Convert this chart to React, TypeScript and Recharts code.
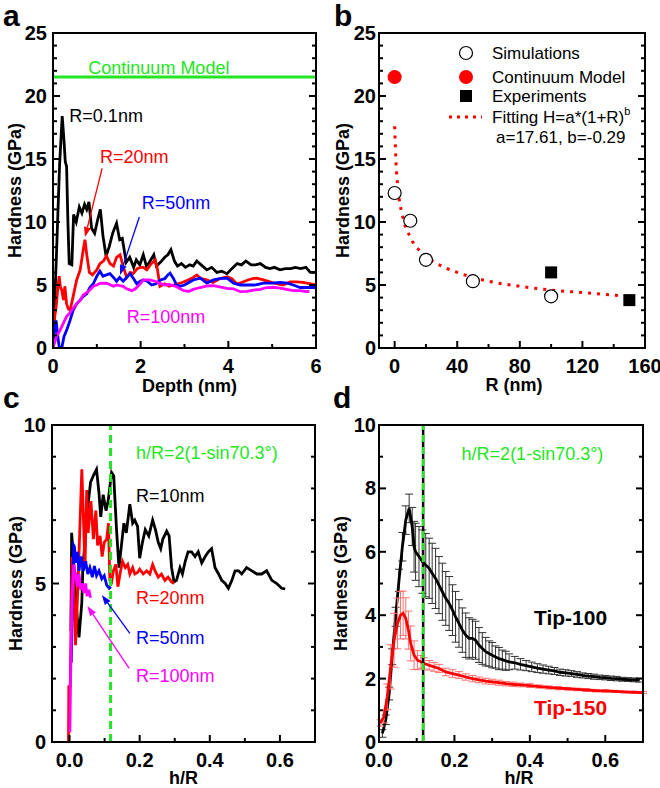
import React from 'react';
import {
  LineChart,
  ComposedChart,
  Line,
  Scatter,
  XAxis,
  YAxis,
  ReferenceLine,
  ReferenceDot,
  ErrorBar,
  Legend,
  Label,
} from 'recharts';

const FONT = '"Liberation Sans", Arial, Helvetica, sans-serif';
const GREEN = '#22e622';
const RED = '#ff0000';
const BLUE = '#0000ff';
const MAGENTA = '#ff00ff';
const BLACK = '#000000';

type Pair = [number, number];
type Triple = [number, number, number];

// ---------------- Panel a: hardness vs depth ----------------
const A_X_TICKS = [0, 1, 2, 3, 4, 5, 6];
const A_X_LABELS = [0, 2, 4, 6];
const A_Y_TICKS = Array.from({ length: 26 }, (_, i) => i);
const A_Y_LABELS = [0, 5, 10, 15, 20, 25];
const A_CONTINUUM = 21.5;

const aR01: Pair[] = [
  [0, 0], [0.05, 4.6], [0.1, 9.5], [0.15, 14.5], [0.21, 18.4], [0.25, 16.5], [0.28, 14.8], [0.31, 14.4],
  [0.34, 10], [0.37, 6.7], [0.43, 6.6], [0.47, 10.6], [0.53, 10.0], [0.6, 11.2], [0.66, 10.7], [0.72, 11.4],
  [0.77, 11.0], [0.82, 11.6], [0.88, 9.5], [0.95, 9.1], [1.02, 10.2], [1.08, 11.0], [1.14, 8.9], [1.21, 7.3],
  [1.28, 8.0], [1.36, 9.1], [1.45, 9.9], [1.52, 8.6], [1.58, 8.7], [1.67, 6.8], [1.75, 7.2], [1.84, 6.4],
  [1.9, 7.0], [1.98, 6.6], [2.06, 7.4], [2.13, 6.5], [2.2, 6.8], [2.3, 7.4], [2.36, 6.5], [2.45, 6.8],
  [2.55, 7.2], [2.62, 7.4], [2.69, 7.8], [2.77, 6.9], [2.84, 6.5], [2.93, 6.7], [3.02, 6.4], [3.12, 6.6],
  [3.2, 6.5], [3.28, 6.9], [3.38, 6.6], [3.51, 6.2], [3.62, 6.4], [3.74, 6.0], [3.85, 6.1], [3.97, 5.9],
  [4.08, 6.3], [4.2, 6.7], [4.3, 6.6], [4.4, 6.9], [4.52, 6.6], [4.62, 6.6], [4.73, 6.7], [4.85, 6.4],
  [4.95, 6.3], [5.05, 6.4], [5.18, 6.2], [5.3, 6.3], [5.42, 6.3], [5.53, 6.4], [5.65, 6.3], [5.77, 6.4],
  [5.87, 6.0], [6.0, 6.0],
];
const aR20: Pair[] = [
  [0, 0.3], [0.04, 2.5], [0.08, 3.5], [0.11, 4.8], [0.14, 5.7], [0.17, 4.8], [0.2, 4.6], [0.24, 3.8],
  [0.27, 4.9], [0.31, 3.5], [0.35, 3.1], [0.39, 3.0], [0.46, 4.1], [0.54, 5.4], [0.62, 6.2], [0.69, 7.8],
  [0.73, 8.6], [0.77, 7.4], [0.83, 6.0], [0.9, 5.8], [1.0, 6.2], [1.07, 6.7], [1.15, 6.9], [1.22, 7.3],
  [1.3, 6.7], [1.38, 6.5], [1.45, 7.2], [1.53, 7.4], [1.6, 6.5], [1.68, 5.6], [1.76, 6.0], [1.83, 5.9],
  [1.92, 6.3], [2.0, 6.4], [2.06, 6.4], [2.14, 6.2], [2.22, 6.6], [2.33, 7.0], [2.38, 6.3], [2.44, 4.9],
  [2.55, 5.1], [2.65, 4.9], [2.75, 5.0], [2.85, 5.1], [2.95, 5.2], [3.08, 5.4], [3.2, 5.6], [3.28, 5.8],
  [3.38, 5.5], [3.51, 5.4], [3.65, 5.2], [3.8, 5.5], [3.97, 5.65], [4.08, 5.5], [4.19, 5.1], [4.3, 5.2],
  [4.45, 5.4], [4.55, 5.5], [4.65, 5.55], [4.8, 5.4], [4.95, 5.25], [5.1, 5.1], [5.25, 5.0], [5.41, 5.25],
  [5.55, 5.25], [5.7, 5.2], [5.85, 5.1], [6.0, 5.0],
];
const aR50: Pair[] = [
  [0, 0], [0.04, 1.5], [0.07, 2.2], [0.1, 1.2], [0.14, 0.1], [0.2, 0], [0.25, 0.9], [0.31, 1.4],
  [0.39, 2.2], [0.46, 3.0], [0.54, 3.5], [0.62, 3.8], [0.69, 4.1], [0.77, 4.3], [0.84, 4.8], [0.92, 5.1],
  [1.0, 5.7], [1.07, 6.1], [1.14, 5.7], [1.22, 5.8], [1.3, 5.9], [1.38, 5.6], [1.45, 5.3], [1.52, 5.6],
  [1.6, 5.3], [1.68, 5.6], [1.76, 5.9], [1.84, 5.5], [1.91, 5.1], [1.99, 5.3], [2.06, 5.4], [2.15, 5.3],
  [2.25, 5.0], [2.35, 5.1], [2.45, 5.4], [2.55, 5.5], [2.62, 5.8], [2.67, 5.95], [2.75, 5.5], [2.82, 5.0],
  [2.9, 4.9], [3.0, 5.0], [3.1, 5.2], [3.2, 5.4], [3.36, 5.55], [3.51, 5.15], [3.66, 5.4], [3.8, 5.5],
  [3.97, 5.55], [4.12, 5.15], [4.27, 5.0], [4.42, 5.0], [4.6, 5.0], [4.8, 5.15], [5.0, 5.15], [5.18, 5.2],
  [5.35, 5.15], [5.48, 5.0], [5.64, 4.8], [5.8, 4.8], [6.0, 4.8],
];
const aR100: Pair[] = [
  [0, 0], [0.08, 0.9], [0.16, 1.4], [0.24, 2.0], [0.31, 2.5], [0.39, 2.8], [0.46, 3.15], [0.54, 3.5],
  [0.62, 3.8], [0.69, 4.2], [0.77, 4.4], [0.84, 4.6], [0.92, 4.9], [1.0, 5.0], [1.07, 5.13], [1.22, 5.15],
  [1.38, 4.9], [1.45, 5.0], [1.6, 4.9], [1.68, 4.7], [1.8, 4.55], [1.88, 4.7], [1.99, 5.1], [2.06, 5.4],
  [2.2, 5.4], [2.33, 5.3], [2.44, 5.13], [2.55, 5.0], [2.65, 5.05], [2.82, 4.86], [2.98, 4.55], [3.1, 4.5],
  [3.2, 4.65], [3.36, 4.8], [3.51, 4.92], [3.66, 4.95], [3.8, 4.85], [3.97, 4.74], [4.12, 4.7], [4.27, 4.47],
  [4.42, 4.5], [4.58, 4.6], [4.73, 4.65], [4.88, 4.8], [5.03, 4.82], [5.18, 4.75], [5.33, 4.65], [5.48, 4.55],
  [5.63, 4.55], [5.79, 4.47], [5.85, 4.5],
];

// ---------------- Panel b: hardness vs tip radius ----------------
const B_X_TICKS = [0, 20, 40, 60, 80, 100, 120, 140, 160];
const B_X_LABELS = [0, 40, 80, 120, 160];
const bSimulations: Pair[] = [[0, 12.3], [10, 10.1], [20, 7.0], [50, 5.3], [100, 4.1]];
const bContinuum: Pair[] = [[0, 21.5]];
const bExperiments: Pair[] = [[100, 6.0], [150, 3.8]];
const bFitting: Pair[] = [
  [0, 17.6], [1, 14.4], [2, 12.8], [5, 10.5], [10, 8.8], [20, 7.3], [30, 6.5], [40, 6.0],
  [60, 5.3], [80, 4.9], [100, 4.6], [120, 4.4], [150, 4.1],
];

// ---------------- Panel c: hardness vs h/R ----------------
const C_X_TICKS = [0, 0.1, 0.2, 0.3, 0.4, 0.5, 0.6, 0.7];
const C_X_LABELS = [0, 0.2, 0.4, 0.6];
const C_Y_TICKS = [0, 1, 2, 3, 4, 5, 6, 7, 8, 9, 10];
const C_Y_LABELS = [0, 5, 10];
const H_R_CRIT = 0.117;

const cR10: Pair[] = [
  [0.004, 3.5], [0.006, 6.6], [0.013, 5.5], [0.019, 4.3], [0.027, 3.3], [0.035, 4.4], [0.038, 5.5], [0.046, 6.6],
  [0.054, 7.6], [0.06, 8.2], [0.068, 8.4], [0.077, 8.6], [0.084, 7.85], [0.089, 7.1], [0.096, 7.8], [0.104, 7.3],
  [0.11, 7.6], [0.12, 8.5], [0.126, 8.4], [0.134, 6.7], [0.141, 5.5], [0.148, 6.2], [0.155, 6.9], [0.162, 6.6],
  [0.172, 7.5], [0.18, 6.9], [0.186, 7.0], [0.194, 6.8], [0.2, 5.8], [0.208, 6.3], [0.216, 6.7], [0.226, 6.5],
  [0.237, 7.0], [0.245, 6.7], [0.253, 6.3], [0.26, 6.1], [0.266, 6.4], [0.277, 6.65], [0.284, 6.5], [0.291, 5.5],
  [0.298, 5.05], [0.305, 5.1], [0.315, 5.5], [0.322, 5.3], [0.33, 5.7], [0.338, 6.0], [0.348, 6.0], [0.358, 5.85],
  [0.367, 6.0], [0.377, 5.65], [0.387, 5.85], [0.396, 6.0], [0.405, 6.1], [0.415, 5.5], [0.425, 5.3], [0.434, 5.1],
  [0.444, 5.0], [0.453, 4.85], [0.463, 5.1], [0.472, 5.4], [0.482, 5.4], [0.491, 5.3], [0.505, 5.5], [0.52, 5.4],
  [0.534, 5.3], [0.548, 5.3], [0.562, 5.4], [0.577, 5.1], [0.591, 5.0], [0.605, 4.85], [0.615, 4.83],
];
const cR20: Pair[] = [
  [-0.003, 0], [-0.002, 1.75], [0.002, 1.75], [0.007, 5.84], [0.012, 4.9], [0.017, 3.05], [0.024, 4.9], [0.029, 6.6],
  [0.035, 8.6], [0.039, 7.3], [0.044, 5.5], [0.049, 7.95], [0.053, 6.6], [0.061, 7.6], [0.068, 6.4], [0.075, 7.3],
  [0.08, 6.2], [0.087, 6.5], [0.093, 5.85], [0.099, 6.3], [0.106, 6.4], [0.111, 6.9], [0.115, 5.1], [0.12, 5.05],
  [0.125, 5.4], [0.132, 5.6], [0.138, 4.9], [0.144, 5.3], [0.151, 5.7], [0.159, 5.5], [0.166, 5.6], [0.172, 5.3],
  [0.18, 5.5], [0.186, 5.3], [0.194, 5.35], [0.2, 5.45], [0.21, 5.3], [0.22, 5.4], [0.229, 5.3], [0.237, 5.6],
  [0.244, 5.4], [0.253, 5.2], [0.262, 5.3], [0.272, 5.1], [0.281, 5.2], [0.291, 5.05], [0.298, 5.0],
];
const cR50: Pair[] = [
  [0.005, 2.5], [0.009, 5.0], [0.012, 6.2], [0.014, 6.16], [0.018, 5.65], [0.023, 6.0], [0.027, 5.4], [0.033, 5.85],
  [0.039, 5.4], [0.046, 5.7], [0.052, 5.3], [0.058, 5.5], [0.065, 5.2], [0.071, 5.55], [0.077, 5.25], [0.084, 5.4],
  [0.092, 5.15], [0.099, 5.25], [0.106, 4.95], [0.113, 4.85], [0.118, 4.9],
];
const cR100: Pair[] = [
  [0.001, 0.3], [0.003, 2.0], [0.006, 4.0], [0.009, 5.0], [0.012, 5.6], [0.015, 5.2], [0.018, 5.25], [0.022, 4.9],
  [0.027, 5.3], [0.032, 4.8], [0.037, 5.0], [0.041, 4.7], [0.046, 5.0], [0.05, 4.6], [0.055, 4.8], [0.06, 4.55],
];

// ---------------- Panel d: averaged hardness with error bars ----------------
const D_X_TICKS = [0, 0.1, 0.2, 0.3, 0.4, 0.5, 0.6, 0.7];
const D_X_LABELS = [0, 0.2, 0.4, 0.6];
const D_Y_TICKS = [0, 1, 2, 3, 4, 5, 6, 7, 8, 9, 10];
const D_Y_LABELS = [0, 2, 4, 6, 8, 10];

const dTip100: Triple[] = [
  [0.009, 0.27, 0.12], [0.018, 0.7, 0.15], [0.027, 1.53, 0.2], [0.035, 2.69, 0.25], [0.044, 3.95, 0.3],
  [0.053, 5.1, 0.35], [0.062, 6.16, 0.45], [0.071, 7.0, 0.45], [0.08, 7.37, 0.45], [0.088, 6.8, 0.6],
  [0.093, 6.16, 0.8], [0.097, 6.0, 0.9], [0.106, 5.85, 0.95], [0.115, 5.69, 1.0], [0.124, 5.58, 1.0],
  [0.133, 5.48, 0.95], [0.141, 5.32, 0.95], [0.15, 5.16, 0.95], [0.159, 4.95, 0.9], [0.168, 4.74, 0.9],
  [0.177, 4.53, 0.85], [0.186, 4.37, 0.85], [0.195, 4.16, 0.8], [0.203, 3.95, 0.8], [0.212, 3.74, 0.75],
  [0.221, 3.53, 0.7], [0.23, 3.37, 0.7], [0.239, 3.27, 0.65], [0.248, 3.27, 0.6], [0.256, 3.21, 0.6],
  [0.265, 3.06, 0.55], [0.274, 2.95, 0.5], [0.283, 2.85, 0.45], [0.292, 2.79, 0.4], [0.3, 2.74, 0.4],
  [0.309, 2.68, 0.35], [0.318, 2.63, 0.35], [0.327, 2.6, 0.3], [0.336, 2.56, 0.3], [0.345, 2.53, 0.25],
  [0.36, 2.5, 0.2], [0.375, 2.45, 0.18], [0.39, 2.41, 0.16], [0.405, 2.37, 0.15], [0.42, 2.33, 0.14],
  [0.435, 2.3, 0.13], [0.45, 2.27, 0.12], [0.465, 2.24, 0.11], [0.48, 2.2, 0.1], [0.495, 2.18, 0.1],
  [0.51, 2.16, 0.09], [0.525, 2.13, 0.09], [0.54, 2.1, 0.08], [0.555, 2.08, 0.08], [0.57, 2.06, 0.08],
  [0.585, 2.04, 0.07], [0.6, 2.03, 0.07], [0.615, 2.01, 0.07], [0.63, 2.0, 0.07], [0.645, 1.98, 0.06],
  [0.66, 1.97, 0.06], [0.675, 1.96, 0.06], [0.69, 1.95, 0.06],
];
const dTip150: Triple[] = [
  [0.004, 0.6, 0.1], [0.013, 0.8, 0.2], [0.022, 1.43, 0.4], [0.031, 2.37, 0.7], [0.04, 3.21, 0.85],
  [0.049, 3.74, 0.8], [0.057, 4.0, 0.75], [0.064, 4.06, 0.7], [0.071, 3.9, 0.65], [0.078, 3.53, 0.6],
  [0.084, 3.11, 0.55], [0.093, 2.74, 0.45], [0.102, 2.58, 0.3], [0.111, 2.53, 0.2], [0.119, 2.48, 0.18],
  [0.133, 2.42, 0.15], [0.146, 2.37, 0.14], [0.159, 2.32, 0.13], [0.177, 2.21, 0.12], [0.195, 2.16, 0.12],
  [0.212, 2.11, 0.11], [0.23, 2.05, 0.1], [0.248, 2.0, 0.1], [0.265, 1.96, 0.09], [0.283, 1.92, 0.09],
  [0.3, 1.9, 0.08], [0.318, 1.87, 0.08], [0.336, 1.84, 0.07], [0.355, 1.82, 0.07], [0.375, 1.8, 0.06],
  [0.4, 1.78, 0.06], [0.425, 1.75, 0.05], [0.45, 1.72, 0.05], [0.475, 1.7, 0.05], [0.5, 1.68, 0.04],
  [0.525, 1.66, 0.04], [0.55, 1.64, 0.04], [0.575, 1.62, 0.04], [0.6, 1.61, 0.04], [0.625, 1.6, 0.03],
  [0.65, 1.58, 0.03], [0.675, 1.57, 0.03], [0.7, 1.56, 0.03],
];

// ---------------- helpers ----------------
const toPts = (arr: Pair[]) => arr.map(([x, y]) => ({ x, y }));
const toErrPts = (arr: Triple[]) => arr.map(([x, y, e]) => ({ x, y, e }));
const fmtInt = (v: number) => String(v);
const fmt1 = (v: number) => v.toFixed(1);
const AXIS = { stroke: '#000', strokeWidth: 2, strokeLinecap: 'square' as const };
const LW = 2.8;

type Side = 'left' | 'bottom' | 'top' | 'right';
function tickRenderer(side: Side, labels: number[], fmt: ((v: number) => string) | null, gap = 6) {
  return (props: any) => {
    const { x, y, payload } = props;
    const v = Number(payload.value);
    const major = labels.some((m) => Math.abs(m - v) < 1e-9);
    const len = major ? 7 : 4;
    let line: React.ReactNode;
    if (side === 'left') line = <line x1={x} y1={y} x2={x + len} y2={y} />;
    else if (side === 'right') line = <line x1={x} y1={y} x2={x - len} y2={y} />;
    else if (side === 'bottom') line = <line x1={x} y1={y} x2={x} y2={y - len} />;
    else line = <line x1={x} y1={y} x2={x} y2={y + len} />;
    let label: React.ReactNode = null;
    if (major && fmt) {
      if (side === 'left')
        label = (
          <text x={x - gap} y={y + 7} textAnchor="end" fontSize={20} fontWeight="bold" fontFamily={FONT} fill="#000">
            {fmt(v)}
          </text>
        );
      if (side === 'bottom')
        label = (
          <text x={x} y={y + 25} textAnchor="middle" fontSize={20} fontWeight="bold" fontFamily={FONT} fill="#000">
            {fmt(v)}
          </text>
        );
    }
    return (
      <g>
        <g stroke="#000" strokeWidth={2}>{line}</g>
        {label}
      </g>
    );
  };
}

const xTitle = (text: string, dx: number, dy: number) => (props: any) => {
  const vb = props.viewBox || { x: 0, y: 0, width: 0, height: 0 };
  return (
    <text x={vb.x + vb.width / 2 + dx} y={vb.y + dy} textAnchor="middle" fontSize={18} fontWeight="bold" fontFamily={FONT} fill="#000">
      {text}
    </text>
  );
};
const yTitle = (text: string, bx: number) => (props: any) => {
  const vb = props.viewBox || { x: 0, y: 0, width: 0, height: 0 };
  const cx = vb.x + bx;
  const cy = vb.y + vb.height / 2;
  return (
    <text x={cx} y={cy} transform={`rotate(-90 ${cx} ${cy})`} textAnchor="middle" fontSize={18} fontWeight="bold" fontFamily={FONT} fill="#000">
      {text}
    </text>
  );
};

const textShape = (label: string, color: string, size = 18, weight: string = 'normal') => (p: any) => (
  <text x={p.cx} y={p.cy} fill={color} fontSize={size} fontWeight={weight} fontFamily={FONT} textAnchor="start">
    {label}
  </text>
);

const arrowShape = (color: string) => (p: any) => {
  const { x1, y1, x2, y2 } = p;
  const dx = x2 - x1;
  const dy = y2 - y1;
  const L = Math.hypot(dx, dy) || 1;
  const ux = dx / L;
  const uy = dy / L;
  const hl = 10;
  const hw = 3.5;
  const bx = x2 - ux * hl;
  const by = y2 - uy * hl;
  return (
    <g>
      <line x1={x1} y1={y1} x2={bx} y2={by} stroke={color} strokeWidth={1.3} />
      <polygon points={`${x2},${y2} ${bx - uy * hw},${by + ux * hw} ${bx + uy * hw},${by - ux * hw}`} fill={color} />
    </g>
  );
};

// Axis builders (returned as arrays so that Recharts sees them as direct children)
function axes(o: {
  xDomain: [number, number];
  yDomain: [number, number];
  xTicks: number[];
  yTicks: number[];
  xLabels: number[];
  yLabels: number[];
  xFmt: (v: number) => string;
  xHeight: number;
  yWidth: number;
  yGap: number;
  xTitleText: string;
  xTitleDx: number;
  xTitleDy: number;
  yTitleX: number;
}) {
  return [
    <XAxis
      key="xb"
      type="number"
      dataKey="x"
      domain={o.xDomain}
      allowDataOverflow
      ticks={o.xTicks}
      interval={0}
      tickLine={false}
      tickSize={0}
      tickMargin={0}
      tick={tickRenderer('bottom', o.xLabels, o.xFmt)}
      axisLine={AXIS}
      height={o.xHeight}
    >
      <Label content={xTitle(o.xTitleText, o.xTitleDx, o.xTitleDy)} />
    </XAxis>,
    <YAxis
      key="yl"
      type="number"
      dataKey="y"
      domain={o.yDomain}
      allowDataOverflow
      ticks={o.yTicks}
      interval={0}
      tickLine={false}
      tickSize={0}
      tickMargin={0}
      tick={tickRenderer('left', o.yLabels, fmtInt, o.yGap)}
      axisLine={AXIS}
      width={o.yWidth}
    >
      <Label content={yTitle('Hardness (GPa)', o.yTitleX)} />
    </YAxis>,
    <XAxis
      key="xt"
      xAxisId="top"
      orientation="top"
      type="number"
      domain={o.xDomain}
      allowDataOverflow
      ticks={o.xTicks}
      interval={0}
      tickLine={false}
      tickSize={0}
      tickMargin={0}
      tick={tickRenderer('top', o.xLabels, null)}
      axisLine={AXIS}
      height={1}
    />,
    <YAxis
      key="yr"
      yAxisId="right"
      orientation="right"
      type="number"
      domain={o.yDomain}
      allowDataOverflow
      ticks={o.yTicks}
      interval={0}
      tickLine={false}
      tickSize={0}
      tickMargin={0}
      tick={tickRenderer('right', o.yLabels, null)}
      axisLine={AXIS}
      width={1}
    />,
  ];
}

function PanelA() {
  return (
    <LineChart width={330} height={400} margin={{ top: 32, right: 13, bottom: 0, left: 0 }}>
      {axes({
        xDomain: [0, 6], yDomain: [0, 25], xTicks: A_X_TICKS, yTicks: A_Y_TICKS, xLabels: A_X_LABELS, yLabels: A_Y_LABELS,
        xFmt: fmtInt, xHeight: 52, yWidth: 53, yGap: 6, xTitleText: 'Depth (nm)', xTitleDx: 5, xTitleDy: 44, yTitleX: 21,
      })}
      <ReferenceLine y={A_CONTINUUM} stroke={GREEN} strokeWidth={3} />
      <Line data={toPts(aR01)} dataKey="y" stroke={BLACK} strokeWidth={LW} dot={false} isAnimationActive={false} />
      <Line data={toPts(aR20)} dataKey="y" stroke={RED} strokeWidth={LW} dot={false} isAnimationActive={false} />
      <Line data={toPts(aR50)} dataKey="y" stroke={BLUE} strokeWidth={LW} dot={false} isAnimationActive={false} />
      <Line data={toPts(aR100)} dataKey="y" stroke={MAGENTA} strokeWidth={LW} dot={false} isAnimationActive={false} />
      <ReferenceDot x={0.806} y={21.75} r={0} shape={textShape('Continuum Model', GREEN)} />
      <ReferenceDot x={0.373} y={17.96} r={0} shape={textShape('R=0.1nm', BLACK)} />
      <ReferenceDot x={1.073} y={14.66} r={0} shape={textShape('R=20nm', RED)} />
      <ReferenceDot x={2.025} y={11.0} r={0} shape={textShape('R=50nm', BLUE)} />
      <ReferenceDot x={1.683} y={2.01} r={0} shape={textShape('R=100nm', MAGENTA)} />
      <ReferenceLine segment={[{ x: 1.12, y: 14.26 }, { x: 0.73, y: 8.8 }]} shape={arrowShape(RED)} />
      <ReferenceLine segment={[{ x: 1.97, y: 10.4 }, { x: 1.53, y: 5.8 }]} shape={arrowShape(BLUE)} />
    </LineChart>
  );
}

function BLegend() {
  const f = { fontSize: 17, fontFamily: FONT, fill: '#000' };
  return (
    <svg width={200} height={110} style={{ overflow: 'visible' }}>
      <circle cx={18} cy={13} r={6.5} fill="#fff" stroke="#000" strokeWidth={1.2} />
      <text x={44} y={19} {...f}>Simulations</text>
      <circle cx={18} cy={37} r={7} fill={RED} />
      <text x={44} y={43} {...f}>Continuum Model</text>
      <rect x={12} y={50} width={12} height={12} fill="#000" />
      <text x={44} y={62} {...f}>Experiments</text>
      <line x1={1} y1={77} x2={34} y2={77} stroke={RED} strokeWidth={3} strokeDasharray="3 5" />
      <text x={44} y={83} {...f}>
        Fitting H=a*(1+R)
        <tspan dy={-8} fontSize={11}>b</tspan>
      </text>
      <text x={48} y={103} {...f}>a=17.61, b=-0.29</text>
    </svg>
  );
}

function PanelB() {
  return (
    <ComposedChart width={330} height={400} margin={{ top: 32, right: 14, bottom: 0, left: 0 }}>
      {axes({
        xDomain: [-10, 160], yDomain: [0, 25], xTicks: B_X_TICKS, yTicks: A_Y_TICKS, xLabels: B_X_LABELS, yLabels: A_Y_LABELS,
        xFmt: fmtInt, xHeight: 52, yWidth: 49, yGap: 3, xTitleText: 'R (nm)', xTitleDx: 2, xTitleDy: 43, yTitleX: 19,
      })}
      <Line data={toPts(bFitting)} dataKey="y" type="monotone" stroke={RED} strokeWidth={3} strokeDasharray="3 6" dot={false} isAnimationActive={false} />
      <Scatter
        data={toPts(bSimulations)}
        dataKey="y"
        isAnimationActive={false}
        shape={(p: any) => <circle cx={p.cx} cy={p.cy} r={6.5} fill="#fff" stroke="#000" strokeWidth={1.2} />}
      />
      <Scatter
        data={toPts(bContinuum)}
        dataKey="y"
        isAnimationActive={false}
        shape={(p: any) => <circle cx={p.cx} cy={p.cy} r={7} fill={RED} />}
      />
      <Scatter
        data={toPts(bExperiments)}
        dataKey="y"
        isAnimationActive={false}
        shape={(p: any) => <rect x={p.cx - 6} y={p.cy - 6} width={12} height={12} fill="#000" />}
      />
      <Legend
        layout="vertical"
        align="center"
        verticalAlign="middle"
        wrapperStyle={{ left: 118, top: 40, width: 200, height: 110 }}
        content={() => <BLegend />}
      />
    </ComposedChart>
  );
}

function PanelC() {
  return (
    <LineChart width={330} height={388} margin={{ top: 24, right: 14, bottom: 0, left: 0 }}>
      {axes({
        xDomain: [-0.05, 0.7], yDomain: [0, 10], xTicks: C_X_TICKS, yTicks: C_Y_TICKS, xLabels: C_X_LABELS, yLabels: C_Y_LABELS,
        xFmt: fmt1, xHeight: 46, yWidth: 52, yGap: 6, xTitleText: 'h/R', xTitleDx: 0, xTitleDy: 42, yTitleX: 22,
      })}
      <Line data={toPts(cR10)} dataKey="y" stroke={BLACK} strokeWidth={LW} dot={false} isAnimationActive={false} />
      <Line data={toPts(cR20)} dataKey="y" stroke={RED} strokeWidth={LW} dot={false} isAnimationActive={false} />
      <Line data={toPts(cR50)} dataKey="y" stroke={BLUE} strokeWidth={LW} dot={false} isAnimationActive={false} />
      <Line data={toPts(cR100)} dataKey="y" stroke={MAGENTA} strokeWidth={LW} dot={false} isAnimationActive={false} />
      <ReferenceLine x={H_R_CRIT} stroke={GREEN} strokeWidth={3} strokeDasharray="8 5" />
      <ReferenceDot x={0.1895} y={8.92} r={0} shape={textShape('h/R=2(1-sin70.3°)', GREEN)} />
      <ReferenceDot x={0.1895} y={7.58} r={0} shape={textShape('R=10nm', BLACK)} />
      <ReferenceDot x={0.1895} y={4.35} r={0} shape={textShape('R=20nm', RED)} />
      <ReferenceDot x={0.1895} y={3.09} r={0} shape={textShape('R=50nm', BLUE)} />
      <ReferenceDot x={0.1895} y={1.9} r={0} shape={textShape('R=100nm', MAGENTA)} />
      <ReferenceLine segment={[{ x: 0.172, y: 3.43 }, { x: 0.092, y: 4.64 }]} shape={arrowShape(BLUE)} />
      <ReferenceLine segment={[{ x: 0.17, y: 2.32 }, { x: 0.051, y: 4.29 }]} shape={arrowShape(MAGENTA)} />
    </LineChart>
  );
}

function PanelD() {
  return (
    <LineChart width={330} height={388} margin={{ top: 24, right: 16, bottom: 0, left: 0 }}>
      {axes({
        xDomain: [0, 0.7], yDomain: [0, 10], xTicks: D_X_TICKS, yTicks: D_Y_TICKS, xLabels: D_X_LABELS, yLabels: D_Y_LABELS,
        xFmt: fmt1, xHeight: 46, yWidth: 49, yGap: 3, xTitleText: 'h/R', xTitleDx: 8, xTitleDy: 42, yTitleX: 17,
      })}
      <Line data={toErrPts(dTip100)} dataKey="y" stroke={BLACK} strokeWidth={LW} dot={false} isAnimationActive={false}>
        <ErrorBar dataKey="e" direction="y" width={4} stroke="#333" strokeWidth={1} isAnimationActive={false} />
      </Line>
      <Line data={toErrPts(dTip150)} dataKey="y" stroke={RED} strokeWidth={LW} dot={false} isAnimationActive={false}>
        <ErrorBar dataKey="e" direction="y" width={4} stroke="#ff7070" strokeWidth={1} isAnimationActive={false} />
      </Line>
      <ReferenceLine x={H_R_CRIT} stroke={BLACK} strokeWidth={2.5} />
      <ReferenceLine x={H_R_CRIT} stroke={GREEN} strokeWidth={2.5} strokeDasharray="7 5" />
      <ReferenceDot x={0.219} y={8.9} r={0} shape={textShape('h/R=2(1-sin70.3°)', GREEN)} />
      <ReferenceDot x={0.411} y={3.69} r={0} shape={textShape('Tip-100', BLACK, 21, 'bold')} />
      <ReferenceDot x={0.411} y={0.85} r={0} shape={textShape('Tip-150', RED, 21, 'bold')} />
    </LineChart>
  );
}

export default function App() {
  const letter = { fontSize: 30, fontWeight: 'bold' as const, fontFamily: FONT, fill: '#000' };
  return (
    <div style={{ position: 'absolute', left: 0, top: 0, width: 660, height: 788, background: '#fff', fontFamily: FONT }}>
      <div style={{ position: 'absolute', left: 0, top: 0 }}>
        <PanelA />
      </div>
      <div style={{ position: 'absolute', left: 330, top: 0 }}>
        <PanelB />
      </div>
      <div style={{ position: 'absolute', left: 0, top: 400 }}>
        <PanelC />
      </div>
      <div style={{ position: 'absolute', left: 330, top: 400 }}>
        <PanelD />
      </div>
      <svg width={660} height={788} style={{ position: 'absolute', left: 0, top: 0, pointerEvents: 'none' }}>
        <text x={3} y={26} {...letter}>a</text>
        <text x={334} y={26} {...letter}>b</text>
        <text x={3} y={408} {...letter}>c</text>
        <text x={333} y={408} {...letter}>d</text>
      </svg>
    </div>
  );
}
